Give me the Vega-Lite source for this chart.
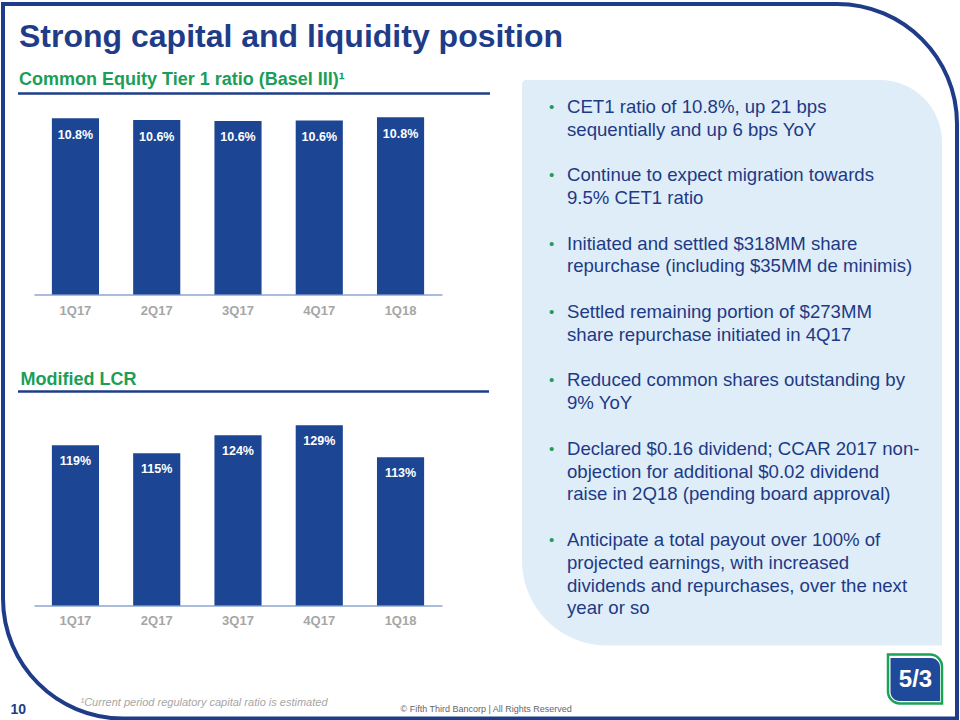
{
  "$schema": "https://vega.github.io/schema/vega-lite/v6.json",
  "background": "white",
  "padding": {"left": 1, "top": 1.5, "right": 1, "bottom": 0},
  "config": {
    "font": "Liberation Sans",
    "view": {"stroke": null},
    "axis": {"grid": false}
  },
  "datasets": {
    "cet1": [
      {"quarter": "1Q17", "ratio": 0.1076},
      {"quarter": "2Q17", "ratio": 0.1064},
      {"quarter": "3Q17", "ratio": 0.1059},
      {"quarter": "4Q17", "ratio": 0.1061},
      {"quarter": "1Q18", "ratio": 0.1082}
    ],
    "lcr": [
      {"quarter": "1Q17", "ratio": 1.19},
      {"quarter": "2Q17", "ratio": 1.15},
      {"quarter": "3Q17", "ratio": 1.24},
      {"quarter": "4Q17", "ratio": 1.29},
      {"quarter": "1Q18", "ratio": 1.13}
    ],
    "bullets": [
      {"line": 0, "bullet": true, "text": "CET1 ratio of 10.8%, up 21 bps"},
      {"line": 1, "bullet": false, "text": "sequentially and up 6 bps YoY"},
      {"line": 3, "bullet": true, "text": "Continue to expect migration towards"},
      {"line": 4, "bullet": false, "text": "9.5% CET1 ratio"},
      {"line": 6, "bullet": true, "text": "Initiated and settled $318MM share"},
      {"line": 7, "bullet": false, "text": "repurchase (including $35MM de minimis)"},
      {"line": 9, "bullet": true, "text": "Settled remaining portion of $273MM"},
      {"line": 10, "bullet": false, "text": "share repurchase initiated in 4Q17"},
      {"line": 12, "bullet": true, "text": "Reduced common shares outstanding by"},
      {"line": 13, "bullet": false, "text": "9% YoY"},
      {"line": 15, "bullet": true, "text": "Declared $0.16 dividend; CCAR 2017 non-"},
      {"line": 16, "bullet": false, "text": "objection for additional $0.02 dividend"},
      {"line": 17, "bullet": false, "text": "raise in 2Q18 (pending board approval)"},
      {"line": 19, "bullet": true, "text": "Anticipate a total payout over 100% of"},
      {"line": 20, "bullet": false, "text": "projected earnings, with increased"},
      {"line": 21, "bullet": false, "text": "dividends and repurchases, over the next"},
      {"line": 22, "bullet": false, "text": "year or so"}
    ],
    "one": [{"item": "decor"}]
  },
  "concat": [
    {
      "width": 408,
      "height": 201,
      "title": {
        "text": "Strong capital and liquidity position",
        "subtitle": "Common Equity Tier 1 ratio (Basel III)¹",
        "anchor": "start",
        "frame": "group",
        "dx": -15,
        "offset": 2.75,
        "font": "Liberation Sans",
        "fontSize": 32,
        "fontWeight": "bold",
        "color": "#1f3c88",
        "subtitleFont": "Liberation Sans",
        "subtitleFontSize": 18,
        "subtitleFontWeight": "bold",
        "subtitleColor": "#1b9e57",
        "subtitlePadding": 17
      },
      "layer": [
        {
          "data": {"name": "cet1"},
          "mark": {"type": "bar", "color": "#1c4694"},
          "encoding": {
            "x": {
              "field": "quarter", "type": "nominal", "sort": null,
              "scale": {"paddingInner": 0.42, "paddingOuter": 0.22},
              "axis": {
                "title": null, "labelAngle": 0, "labelFontSize": 13, "labelFontWeight": "bold",
                "labelColor": "#a6a6a6", "labelPadding": 10.2, "ticks": false, "tickSize": 0,
                "domainColor": "#8ea6cf", "domainWidth": 1.5
              }
            },
            "y": {
              "field": "ratio", "type": "quantitative",
              "scale": {"domain": [0, 0.12264], "nice": false, "zero": false, "clamp": true},
              "axis": null
            }
          }
        },
        {
          "data": {"name": "cet1"},
          "mark": {"type": "text", "color": "white", "fontSize": 12.5, "fontWeight": "bold", "baseline": "alphabetic", "dy": 20.5},
          "encoding": {
            "x": {"field": "quarter", "type": "nominal", "sort": null},
            "y": {"field": "ratio", "type": "quantitative"},
            "text": {"field": "ratio", "type": "quantitative", "format": ".1%"}
          }
        },
        {
          "data": {"name": "one"},
          "mark": {"type": "rule", "color": "#1f3c88", "strokeWidth": 2.5, "xOffset": -16, "x2Offset": 48},
          "encoding": {"x": {"value": 0}, "x2": {"value": "width"}, "y": {"value": 0}}
        }
      ]
    },
    {
      "width": 420,
      "height": 201,
      "layer": [
        {
          "data": {"name": "one"},
          "mark": {
            "type": "rect", "fill": "#dfedf9", "yOffset": -13.5, "y2Offset": 351,
            "cornerRadiusTopLeft": 4, "cornerRadiusTopRight": 62, "cornerRadiusBottomLeft": 85, "cornerRadiusBottomRight": 0
          },
          "encoding": {"x": {"value": 0}, "x2": {"value": "width"}, "y": {"value": 0}, "y2": {"value": "height"}}
        },
        {
          "data": {"name": "one"},
          "mark": {
            "type": "rect", "fill": "transparent", "stroke": "#1f3c88", "strokeWidth": 4,
            "xOffset": -519, "x2Offset": 15, "yOffset": -89.5, "y2Offset": 424,
            "cornerRadiusTopRight": 120, "cornerRadiusBottomLeft": 120
          },
          "encoding": {"x": {"value": 0}, "x2": {"value": "width"}, "y": {"value": 0}, "y2": {"value": "height"}}
        },
        {
          "data": {"name": "one"},
          "mark": {
            "type": "rect", "fill": "white", "stroke": "#1aa257", "strokeWidth": 2.5,
            "xOffset": -54, "x2Offset": 0, "yOffset": 360, "y2Offset": 409,
            "cornerRadiusTopRight": 12, "cornerRadiusBottomLeft": 12
          },
          "encoding": {"x": {"value": "width"}, "x2": {"value": "width"}, "y": {"value": "height"}, "y2": {"value": "height"}}
        },
        {
          "data": {"name": "one"},
          "mark": {
            "type": "rect", "fill": "#1f4a9a",
            "xOffset": -51.5, "x2Offset": -2, "yOffset": 363.5, "y2Offset": 406.5,
            "cornerRadiusTopRight": 9, "cornerRadiusBottomLeft": 9
          },
          "encoding": {"x": {"value": "width"}, "x2": {"value": "width"}, "y": {"value": "height"}, "y2": {"value": "height"}}
        },
        {
          "data": {"name": "one"},
          "mark": {"type": "text", "text": "5/3", "color": "white", "fontSize": 24, "fontWeight": "bold", "align": "center", "baseline": "middle", "dx": -26.5, "dy": 385.5},
          "encoding": {"x": {"value": "width"}, "y": {"value": "height"}}
        },
        {
          "data": {"name": "bullets"},
          "mark": {"type": "text", "align": "left", "baseline": "middle", "fontSize": 18.6, "color": "#1d3a84", "dx": 45},
          "encoding": {
            "x": {"value": 0},
            "y": {
              "field": "line", "type": "quantitative",
              "scale": {"domain": [-0.583, 8.233], "reverse": true, "nice": false, "zero": false},
              "axis": {
                "title": "© Fifth Third Bancorp | All Rights Reserved", "labels": false, "ticks": false, "domain": false, "grid": false,
                "titleAngle": 0, "titleX": -122, "titleY": 618, "titleAlign": "left", "titleBaseline": "alphabetic",
                "titleFontSize": 9, "titleFontWeight": "normal", "titleColor": "#666666"
              }
            },
            "text": {"field": "text", "type": "nominal"}
          }
        },
        {
          "data": {"name": "bullets"},
          "transform": [{"filter": "datum.bullet"}],
          "mark": {"type": "text", "text": "•", "align": "center", "baseline": "middle", "fontSize": 15, "color": "#1b9e57", "dx": 29.7},
          "encoding": {
            "x": {"value": 0},
            "y": {
              "field": "line", "type": "quantitative",
              "scale": {"domain": [-0.583, 8.233], "reverse": true, "nice": false, "zero": false},
              "axis": {
                "title": "© Fifth Third Bancorp | All Rights Reserved", "labels": false, "ticks": false, "domain": false, "grid": false,
                "titleAngle": 0, "titleX": -122, "titleY": 618, "titleAlign": "left", "titleBaseline": "alphabetic",
                "titleFontSize": 9, "titleFontWeight": "normal", "titleColor": "#666666"
              }
            }
          }
        }
      ]
    },
    {
      "width": 408,
      "height": 214,
      "title": {
        "text": "Modified LCR",
        "anchor": "start",
        "frame": "group",
        "dx": -13.6,
        "offset": 1.75,
        "font": "Liberation Sans",
        "fontSize": 18,
        "fontWeight": "bold",
        "color": "#1b9e57"
      },
      "layer": [
        {
          "data": {"name": "lcr"},
          "mark": {"type": "bar", "color": "#1c4694"},
          "encoding": {
            "x": {
              "field": "quarter", "type": "nominal", "sort": null,
              "scale": {"paddingInner": 0.42, "paddingOuter": 0.22},
              "axis": {
                "labelAngle": 0, "labelFontSize": 13, "labelFontWeight": "bold",
                "labelColor": "#a6a6a6", "labelPadding": 9.3, "ticks": false, "tickSize": 0,
                "domainColor": "#8ea6cf", "domainWidth": 1.5,
                "title": "¹Current period regulatory capital ratio is estimated",
                "titleX": 46, "titleY": 99.7, "titleAlign": "left", "titleBaseline": "alphabetic",
                "titleFontSize": 11, "titleFontStyle": "italic", "titleFontWeight": "normal", "titleColor": "#a6a6a6"
              }
            },
            "y": {
              "field": "ratio", "type": "quantitative",
              "scale": {"domain": [0.3885, 1.4585], "nice": false, "zero": false, "clamp": true},
              "axis": {
                "title": "10", "labels": false, "ticks": false, "domain": false, "grid": false,
                "titleAngle": 0, "titleX": -24, "titleY": 322, "titleAlign": "left", "titleBaseline": "alphabetic",
                "titleFontSize": 14, "titleFontWeight": "bold", "titleColor": "#1f3c88"
              }
            }
          }
        },
        {
          "data": {"name": "lcr"},
          "mark": {"type": "text", "color": "white", "fontSize": 12.5, "fontWeight": "bold", "baseline": "alphabetic", "dy": 19.5},
          "encoding": {
            "x": {"field": "quarter", "type": "nominal", "sort": null},
            "y": {"field": "ratio", "type": "quantitative"},
            "text": {"field": "ratio", "type": "quantitative", "format": ".0%"}
          }
        },
        {
          "data": {"name": "one"},
          "mark": {"type": "rule", "color": "#1f3c88", "strokeWidth": 2.5, "xOffset": -16, "x2Offset": 47},
          "encoding": {"x": {"value": 0}, "x2": {"value": "width"}, "y": {"value": 0}}
        }
      ]
    }
  ],
  "columns": 2,
  "spacing": {"row": 97, "column": 80},
  "bounds": "flush"
}
